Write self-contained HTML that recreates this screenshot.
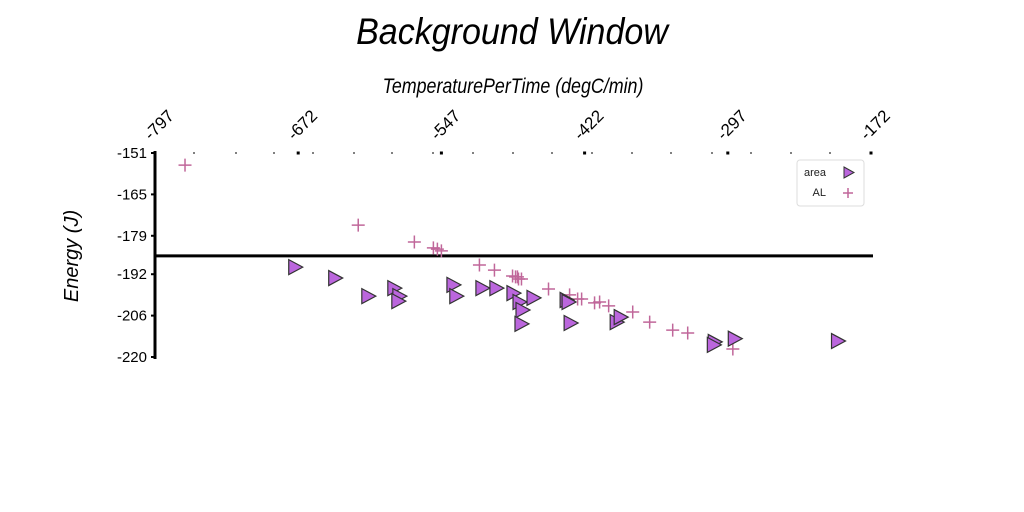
<!DOCTYPE html>
<html><head><meta charset="utf-8"><style>
html,body{margin:0;padding:0;background:#fff;}
svg{display:block;font-family:"Liberation Sans",sans-serif;}
</style></head><body>
<svg id="chart" width="1024" height="512">
<text x="512" y="44" text-anchor="middle" font-size="37" font-style="italic" transform="translate(512,44) scale(0.92,1) translate(-512,-44)">Background Window</text>
<text x="513" y="93" text-anchor="middle" font-size="21" font-style="italic" transform="translate(513,93) scale(0.85,1) translate(-513,-93)">TemperaturePerTime (degC/min)</text>
<text x="78" y="256" text-anchor="middle" font-size="20" font-style="italic" transform="rotate(-90 78 256)">Energy (J)</text>
<g id="axes"></g>
<g id="marks"></g>
<g>
<rect x="797" y="160" width="67" height="46" rx="3" fill="#fff" stroke="#ddd"/>
<text x="826" y="176" text-anchor="end" font-size="11" fill="#222">area</text>
<path d="M844,167 L854,172.5 L844,178 Z" fill="#bb66dd" stroke="#333" stroke-width="1"/>
<text x="826" y="196" text-anchor="end" font-size="11" fill="#222">AL</text>
<path d="M843,193 h10 M848,188 v10" stroke="#c0679a" stroke-width="1.5"/>
</g>
</svg>
<script>
const xTicks=[-797,-672,-547,-422,-297,-172];
const yTicks=[-151,-165,-179,-192,-206,-220];
const refLine=-185.8;
const areaX=[-674.6,-639.7,-610.8,-588.1,-583.7,-584.6,-536.5,-534.0,-511.2,-499.0,-484.1,-478.8,-476.2,-477.1,-466.6,-437.7,-434.2,-394.0,-390.5,-308.4,-309.2,-290.9,-200.8,-436.0];
const areaY=[-189.6,-193.3,-199.4,-196.7,-199.4,-201.1,-195.6,-199.4,-196.7,-196.7,-198.4,-201.4,-204.1,-208.8,-200.0,-200.7,-208.5,-208.2,-206.5,-214.9,-215.9,-213.8,-214.6,-201.4];
const alX=[-770.8,-619.6,-570.6,-554.0,-550.5,-547.0,-513.8,-500.7,-484.9,-482.3,-479.7,-477.1,-453.5,-435.1,-428.1,-424.6,-413.3,-408.9,-401.0,-380.0,-365.2,-345.1,-332.0,-292.6,-480.6];
const alY=[-155.1,-175.4,-181.1,-183.1,-183.5,-184.1,-188.9,-190.6,-192.6,-192.9,-193.6,-193.6,-197.0,-199.0,-200.4,-200.4,-201.7,-201.4,-202.7,-204.8,-208.2,-210.9,-211.9,-217.3,-192.9];
const X0=155,X1=871,Y0=153,Y1=357;
const xs=v=>X0+(v-(-797))/(-172-(-797))*(X1-X0);
const ys=v=>Y0+(v-(-151))/(-220-(-151))*(Y1-Y0);
const NS="http://www.w3.org/2000/svg";
function mk(tag,attrs,parent){const e=document.createElementNS(NS,tag);for(const k in attrs)e.setAttribute(k,attrs[k]);parent.appendChild(e);return e;}
const ax=document.getElementById('axes'),mg=document.getElementById('marks');
let e;
e=mk('line',{x1:X0,y1:Y0-2,x2:X0,y2:Y1+2,stroke:'#000','stroke-width':3},ax);


const minor=[194,236,274,313,354,392,433,473,513,552,592,632,671,712,751,791,830];
minor.forEach(p=>{mk('line',{x1:p,y1:Y0-1,x2:p,y2:Y0+1,stroke:'#000','stroke-width':1},ax);});
xTicks.forEach(v=>{
 const x=xs(v);
 mk('rect',{x:x-1.5,y:Y0-1.5,width:3,height:3,fill:'#000'},ax);
 const t=mk('text',{x:x-4,y:Y0-12,'font-size':17,transform:`rotate(-45 ${x-4} ${Y0-12}) scale(1,1)`},ax);
 t.textContent=v;
 
 
});
yTicks.forEach(v=>{
 const y=ys(v);
 mk('line',{x1:X0-4,y1:y,x2:X0,y2:y,stroke:'#000','stroke-width':2},ax);
 const t=mk('text',{x:X0-8,y:y+5,'font-size':15,'text-anchor':'end'},ax);
 t.textContent=v;
 
 
});
e=mk('line',{x1:X0,y1:ys(refLine),x2:X1+2,y2:ys(refLine),stroke:'#000','stroke-width':3},mg);


alX.forEach((v,i)=>{
 const x=xs(v),y=ys(alY[i]);
 const p=mk('path',{d:`M${x-6.5},${y} h13 M${x},${y-6.5} v13`,stroke:'#c0679a','stroke-width':1.5},mg);
 
 
});
areaX.forEach((v,i)=>{
 const x=xs(v),y=ys(areaY[i]);
 const p=mk('path',{d:`M${x-6.5},${y-7.5} L${x+7.5},${y} L${x-6.5},${y+7.5} Z`,fill:'#bb66dd',stroke:'#333','stroke-width':1.2},mg);
 
 
});
</script>
</body></html>
